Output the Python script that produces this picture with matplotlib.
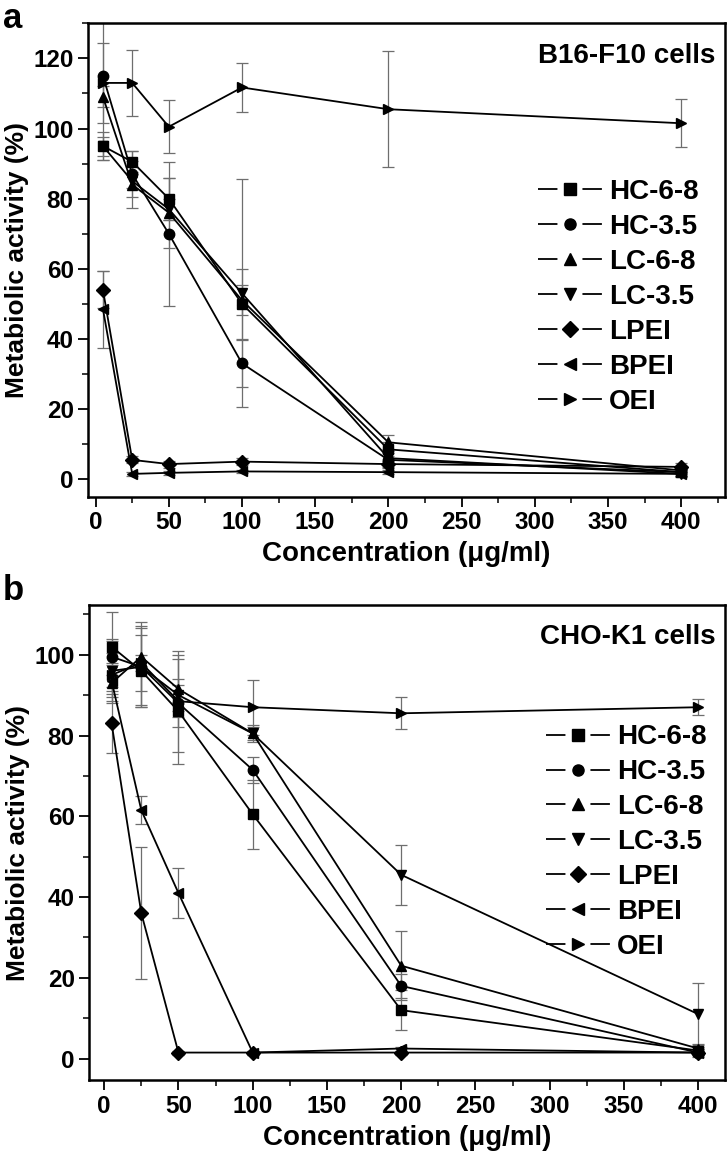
import matplotlib
matplotlib.use("Agg")
import matplotlib.pyplot as plt
from matplotlib import font_manager
from matplotlib.lines import Line2D
from matplotlib.ticker import MultipleLocator

conc = [5, 25, 50, 100, 200, 400]
names = ["HC-6-8", "HC-3.5", "LC-6-8", "LC-3.5", "LPEI", "BPEI", "OEI"]
markers = ["s", "o", "^", "v", "D", "<", ">"]

# panel a: B16-F10 cells
hc68_a = [95, 90.5, 80, 50, 8.5, 2]
hc35_a = [115, 87, 70, 33, 5.5, 2]
lc68_a = [109, 84, 76, 51, 10.5, 2.5]
lc35_a = [95, 85, 77, 53, 6, 1.5]
lpei_a = [54, 5.5, 4.3, 5, 4.3, 3.5]
bpei_a = [48.5, 1.5, 1.8, 2.2, 2, 1.5]
oei_a = [113, 113, 100.5, 111.7, 105.5, 101.5]

hc68_a_err = [4, 3, 6, 10, 2, 1]
hc35_a_err = [24, 6.5, 20.5, 6.7, 2, 1]
lc68_a_err = [3, 6.6, 10, 4.3, 2, 1]
lc35_a_err = [2.7, 2, 3, 32.5, 2, 1]
lpei_a_err = [5.3, 1, 1, 1, 1, 1]
bpei_a_err = [11, 0.5, 0.5, 0.5, 0.5, 0.5]
oei_a_err = [11.3, 9.4, 7.6, 7, 16.5, 6.8]

# panel b: CHO-K1 cells
hc68_b = [102, 96, 86, 60.5, 12, 2]
hc35_b = [99.5, 97, 88, 71.5, 18, 1.5]
lc68_b = [93, 99.5, 91.5, 80.5, 23, 2.5]
lc35_b = [96, 97, 90, 80.5, 45.5, 11]
lpei_b = [83, 36, 1.5, 1.5, 1.5, 1.5]
bpei_b = [93.5, 61.5, 41, 1.5, 2.5, 1.5]
oei_b = [95, 98, 88.5, 87, 85.5, 87]

hc68_b_err = [1.5, 9, 13, 8.5, 5, 1]
hc35_b_err = [11, 10, 12, 3.3, 3, 1]
lc68_b_err = [2, 8.6, 9.5, 1.5, 8.5, 1]
lc35_b_err = [8, 9.5, 4, 2, 7.4, 7.6]
lpei_b_err = [7.3, 16.3, 0.5, 0.5, 0.5, 0.5]
bpei_b_err = [4, 3.5, 6.3, 0.5, 0.5, 0.5]
oei_b_err = [3, 2, 4, 6.8, 4, 2]

vals_a = [hc68_a, hc35_a, lc68_a, lc35_a, lpei_a, bpei_a, oei_a]
errs_a = [hc68_a_err, hc35_a_err, lc68_a_err, lc35_a_err, lpei_a_err, bpei_a_err, oei_a_err]
vals_b = [hc68_b, hc35_b, lc68_b, lc35_b, lpei_b, bpei_b, oei_b]
errs_b = [hc68_b_err, hc35_b_err, lc68_b_err, lc35_b_err, lpei_b_err, bpei_b_err, oei_b_err]

installed = {f.name for f in font_manager.fontManager.ttflist}
font_a = "Liberation Sans"
font_b = "Liberation Sans Narrow" if "Liberation Sans Narrow" in installed else "Liberation Sans"

plt.rcParams["lines.scale_dashes"] = False

fig = plt.figure(figsize=(7.28, 11.54), dpi=100)
ax_a = fig.add_axes([0.1213, 0.5696, 0.8746, 0.4102])
ax_b = fig.add_axes([0.1227, 0.0641, 0.8732, 0.4116])

LEG_SIZE = 20
HANDLE_LEN = 2.3


def draw_panel(ax, vals, errs, font, title, ylim, xlim, leg_anchor):
    for v, e, m in zip(vals, errs, markers):
        ax.errorbar(conc, v, yerr=e, fmt="none", ecolor="#6e6e6e", elinewidth=0.9,
                    capsize=4, capthick=0.9, zorder=2)
        ax.plot(conc, v, color="black", lw=1.3, marker=m, markersize=7.5,
                markerfacecolor="black", markeredgecolor="black", zorder=3)
    ax.set_xlim(*xlim)
    ax.set_ylim(*ylim)
    ax.xaxis.set_major_locator(MultipleLocator(50))
    ax.xaxis.set_minor_locator(MultipleLocator(25))
    ax.yaxis.set_major_locator(MultipleLocator(20))
    ax.yaxis.set_minor_locator(MultipleLocator(10))
    ax.tick_params(which="major", direction="out", length=7, width=1.3)
    ax.tick_params(which="minor", direction="out", length=4, width=1.1)
    for s in ax.spines.values():
        s.set_linewidth(1.8)
    for lab in ax.get_xticklabels() + ax.get_yticklabels():
        lab.set_fontfamily(font)
        lab.set_fontweight("bold")
        lab.set_fontsize(17.5)
    ax.set_xlabel("Concentration (\u03bcg/ml)", fontfamily=font, fontweight="bold",
                  fontsize=20, labelpad=5)
    ax.set_ylabel("Metabiolic activity (%)", fontfamily=font, fontweight="bold",
                  fontsize=19, labelpad=3)
    ax.text(0.985, 0.932, title, transform=ax.transAxes, ha="right", va="center",
            fontfamily=font, fontweight="bold", fontsize=20)
    # legend line split in two pieces with a gap round the marker
    total = HANDLE_LEN * LEG_SIZE
    gap = 18
    seg = (total - gap) / 2
    handles = []
    for m in markers:
        ln = Line2D([], [], color="black", lw=1.3, linestyle=(0, (seg, gap)))
        mk = Line2D([], [], linestyle="none", marker=m, markersize=8,
                    markerfacecolor="black", markeredgecolor="black")
        handles.append((ln, mk))
    ax.legend(handles, names, loc="upper left", bbox_to_anchor=leg_anchor, frameon=False,
              prop={"family": font, "weight": "bold", "size": LEG_SIZE},
              handlelength=HANDLE_LEN, handletextpad=0.25, labelspacing=0.32, borderpad=0)


draw_panel(ax_a, vals_a, errs_a, font_a, "B16-F10 cells", (-5, 130), (-5, 430),
           (0.685, 0.70))
draw_panel(ax_b, vals_b, errs_b, font_b, "CHO-K1 cells", (-5.3, 112.3), (-10, 418),
           (0.697, 0.778))

fig.text(0.004, 0.998, "a", fontfamily=font_a, fontweight="bold", fontsize=25, va="top")
fig.text(0.004, 0.503, "b", fontfamily=font_a, fontweight="bold", fontsize=25, va="top")

fig.savefig("out.png", dpi=100)
